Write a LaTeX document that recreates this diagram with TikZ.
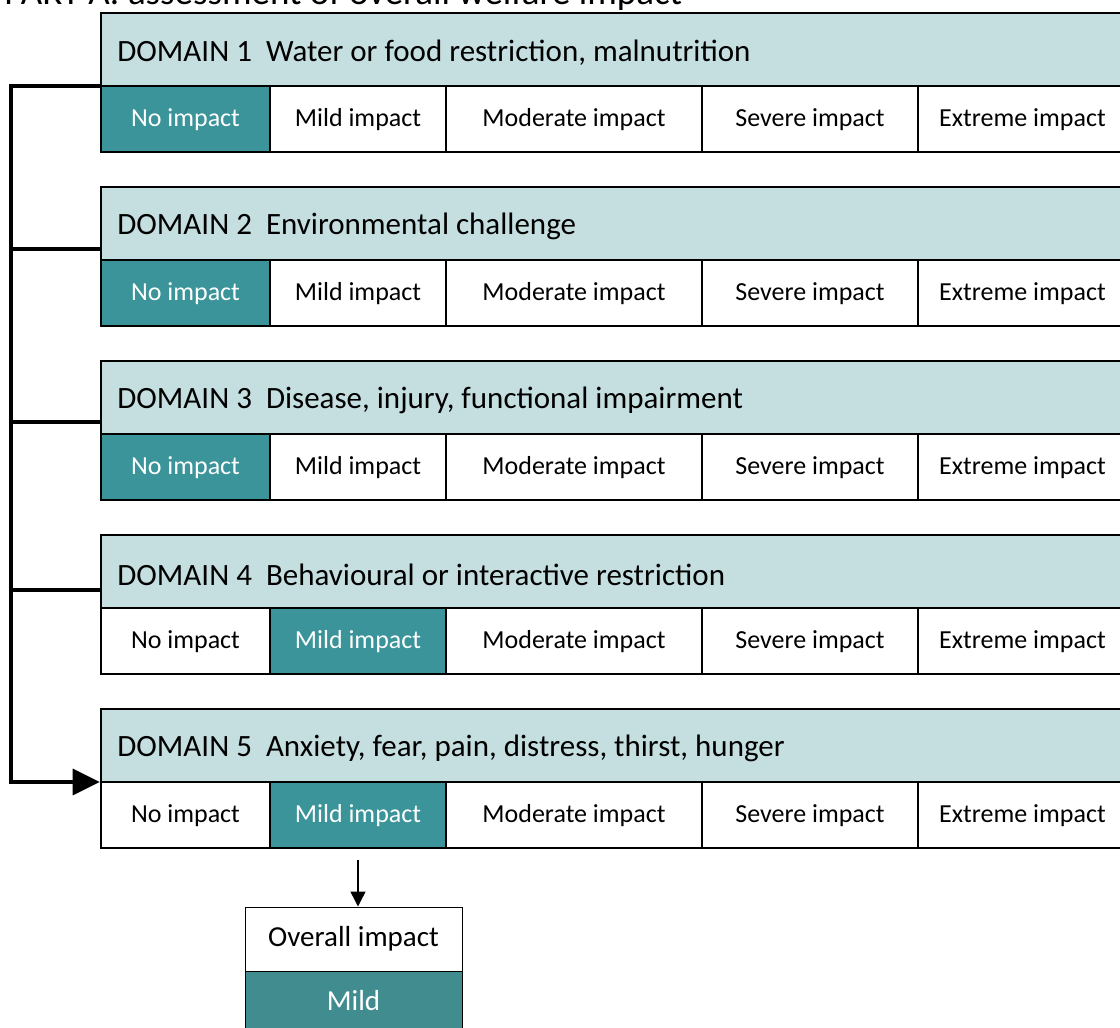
\documentclass[tikz,border=0pt]{standalone}
\usepackage{fontspec}
\setmainfont{Carlito}
\usepackage{xcolor}
\usetikzlibrary{arrows.meta}
\definecolor{headblue}{HTML}{C5DFE1}
\definecolor{impactteal}{HTML}{3A9499}
\definecolor{overallteal}{HTML}{418C8F}

\begin{document}
\begin{tikzpicture}[x=0.5pt, y=0.5pt,
		head/.style={draw, line width=1.3pt, fill=headblue, minimum width=513pt, minimum height=36.5pt, inner sep=0pt},
		cell/.style={draw, line width=1.3pt, fill=white, minimum height=33pt, inner sep=0pt, text height=0.93em, text depth=0.2em, font=\fontsize{13}{15.6}\selectfont},
		hit/.style={cell, fill=impactteal, text=white},
		bus/.style={line width=1.65pt}]
		\useasboundingbox (0,0) rectangle (1120,-1028);
		\clip (0,0) rectangle (1120,-1028);

		\node[anchor=base west, inner sep=0pt, font=\fontsize{18.5}{22}\selectfont] (title) at (4,-4) {PART A: assessment of overall welfare impact};

		\foreach \k/\dname/\sel/\by in {1/{Water or food restriction, malnutrition}/1/86,
				2/{Environmental challenge}/1/249,
				3/{Disease, injury, functional impairment}/1/422,
				4/{Behavioural or interactive restriction}/2/590,
				5/{Anxiety, fear, pain, distress, thirst, hunger}/2/782} {
			\pgfmathsetmacro\t{13+174*(\k-1)}
			\node[head] (h\k) at (614,{-\t-36.5}) {};
			\node[anchor=west, inner sep=0pt, font=\fontsize{15.5}{18}\selectfont] (ht\k) at (117,{-\t-39.5}) {DOMAIN \k~~\dname};
			\foreach \c/\cx/\cw/\ctext in {1/185.5/84.5/No impact, 2/358/88/Mild impact, 3/574/128/Moderate impact, 4/810/108/Severe impact, 5/1022.5/104.5/Extreme impact} {
				\ifnum\c=\sel\def\cst{hit}\else\def\cst{cell}\fi
				\node[\cst, minimum width=\cw pt] (c\k-\c) at (\cx,{-\t-106}) {\ctext};
			}
			\coordinate (b\k) at (11,-\by);
		}

		\draw[bus, -{Triangle[length=13.5pt, width=13pt]}] (b1 -| h1.west) -- (b1) -- (b5) -- (b5 -| h5.west);
		\foreach \k in {2,3,4}
			\draw[bus] (b\k) -- (b\k -| h\k.west);

		\node[cell, line width=0.5pt, minimum width=108.5pt, minimum height=32pt, font=\fontsize{14.5}{17}\selectfont] (ov) at (353.5,-939) {Overall impact};
		\node[hit, fill=overallteal, line width=0.5pt, minimum width=108.5pt, minimum height=32pt, font=\fontsize{14.5}{17}\selectfont] (ovm) at (353.5,-1003) {Mild};
		\draw[line width=0.75pt, -{Triangle[length=7.5pt, width=7.5pt]}] ([yshift=-5.5pt]c5-2.south) -- (c5-2.south |- ov.north);
	\end{tikzpicture}
\end{document}
